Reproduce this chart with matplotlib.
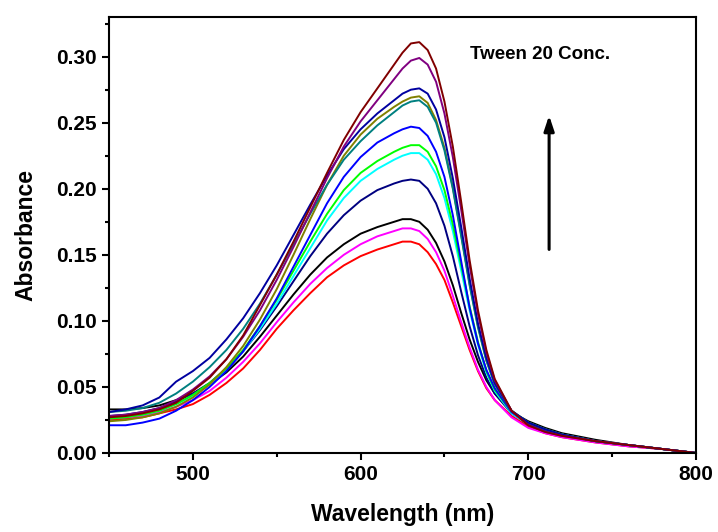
import matplotlib
matplotlib.use("Agg")
import matplotlib.pyplot as plt
from matplotlib.ticker import MultipleLocator

plt.rcParams["font.family"] = ["Liberation Sans", "DejaVu Sans"]
plt.rcParams["font.weight"] = "bold"

# wavelength grid (nm)
wl = [450, 460, 470, 480, 490, 500, 510, 520, 530, 540, 550, 560, 570, 580, 590,
      600, 610, 620, 625, 630, 635, 640, 645, 650, 655, 660, 665, 670, 675, 680,
      690, 700, 710, 720, 740, 760, 780, 800]

# absorbance spectra (low -> high Tween 20 conc.)
a_red = [0.025, 0.026, 0.027, 0.030, 0.033, 0.037, 0.044, 0.053, 0.064, 0.078, 0.094, 0.108, 0.121, 0.133, 0.142,
         0.149, 0.154, 0.158, 0.160, 0.160, 0.158, 0.152, 0.143, 0.131, 0.114, 0.096, 0.078, 0.062, 0.049, 0.040,
         0.028, 0.020, 0.015, 0.012, 0.008, 0.005, 0.003, 0.000]
a_magenta = [0.026, 0.027, 0.028, 0.031, 0.035, 0.040, 0.047, 0.057, 0.069, 0.083, 0.099, 0.114, 0.128, 0.140, 0.150,
             0.158, 0.164, 0.168, 0.170, 0.170, 0.168, 0.162, 0.152, 0.138, 0.119, 0.099, 0.080, 0.063, 0.050, 0.040,
             0.027, 0.019, 0.015, 0.012, 0.008, 0.005, 0.003, 0.000]
a_black = [0.033, 0.033, 0.034, 0.036, 0.040, 0.045, 0.052, 0.061, 0.073, 0.088, 0.104, 0.120, 0.135, 0.148, 0.158,
           0.166, 0.171, 0.175, 0.177, 0.177, 0.175, 0.169, 0.159, 0.145, 0.127, 0.106, 0.086, 0.069, 0.055, 0.045,
           0.031, 0.024, 0.019, 0.015, 0.010, 0.006, 0.003, 0.000]
a_navy = [0.028, 0.029, 0.031, 0.034, 0.039, 0.045, 0.053, 0.064, 0.077, 0.093, 0.111, 0.130, 0.149, 0.166, 0.180,
          0.191, 0.199, 0.204, 0.206, 0.207, 0.206, 0.200, 0.189, 0.172, 0.149, 0.122, 0.096, 0.074, 0.057, 0.045,
          0.030, 0.022, 0.017, 0.014, 0.009, 0.006, 0.003, 0.000]
a_cyan = [0.027, 0.028, 0.029, 0.032, 0.037, 0.043, 0.052, 0.063, 0.077, 0.094, 0.113, 0.134, 0.155, 0.176, 0.193,
          0.206, 0.215, 0.222, 0.225, 0.227, 0.227, 0.222, 0.211, 0.193, 0.168, 0.138, 0.108, 0.082, 0.061, 0.047,
          0.030, 0.022, 0.017, 0.014, 0.009, 0.006, 0.003, 0.000]
a_green = [0.026, 0.027, 0.029, 0.032, 0.037, 0.044, 0.053, 0.064, 0.078, 0.096, 0.116, 0.138, 0.160, 0.181, 0.199,
           0.212, 0.221, 0.228, 0.231, 0.233, 0.233, 0.228, 0.217, 0.199, 0.173, 0.142, 0.111, 0.084, 0.062, 0.048,
           0.031, 0.023, 0.018, 0.014, 0.009, 0.006, 0.003, 0.000]
a_blue = [0.021, 0.021, 0.023, 0.026, 0.032, 0.040, 0.050, 0.062, 0.077, 0.096, 0.117, 0.141, 0.165, 0.189, 0.209,
          0.224, 0.235, 0.242, 0.245, 0.247, 0.246, 0.240, 0.228, 0.209, 0.180, 0.145, 0.110, 0.083, 0.063, 0.049,
          0.031, 0.022, 0.017, 0.014, 0.009, 0.006, 0.003, 0.000]
a_olive = [0.024, 0.025, 0.027, 0.030, 0.035, 0.042, 0.052, 0.065, 0.081, 0.101, 0.124, 0.150, 0.177, 0.203, 0.225,
           0.241, 0.253, 0.262, 0.266, 0.269, 0.270, 0.265, 0.252, 0.231, 0.201, 0.165, 0.128, 0.096, 0.070, 0.052,
           0.032, 0.023, 0.018, 0.014, 0.009, 0.006, 0.003, 0.000]
a_teal = [0.031, 0.032, 0.034, 0.038, 0.045, 0.054, 0.065, 0.078, 0.094, 0.113, 0.135, 0.158, 0.181, 0.203, 0.222,
          0.236, 0.248, 0.258, 0.263, 0.266, 0.267, 0.262, 0.250, 0.229, 0.200, 0.164, 0.127, 0.095, 0.070, 0.052,
          0.032, 0.023, 0.018, 0.014, 0.009, 0.006, 0.003, 0.000]
a_royal = [0.031, 0.033, 0.036, 0.042, 0.054, 0.062, 0.072, 0.086, 0.102, 0.121, 0.142, 0.165, 0.188, 0.210, 0.230,
           0.245, 0.257, 0.267, 0.272, 0.275, 0.276, 0.272, 0.260, 0.239, 0.208, 0.171, 0.132, 0.098, 0.072, 0.053,
           0.032, 0.023, 0.018, 0.014, 0.009, 0.006, 0.003, 0.000]
a_purple = [0.028, 0.029, 0.031, 0.034, 0.040, 0.048, 0.058, 0.071, 0.088, 0.108, 0.131, 0.156, 0.182, 0.208, 0.232,
            0.251, 0.267, 0.283, 0.291, 0.297, 0.299, 0.294, 0.281, 0.257, 0.224, 0.184, 0.142, 0.105, 0.076, 0.055,
            0.032, 0.021, 0.016, 0.013, 0.009, 0.006, 0.003, 0.000]
a_wine = [0.027, 0.028, 0.030, 0.033, 0.038, 0.047, 0.057, 0.071, 0.089, 0.112, 0.135, 0.160, 0.186, 0.212, 0.237,
          0.258, 0.276, 0.294, 0.303, 0.310, 0.311, 0.305, 0.291, 0.266, 0.232, 0.190, 0.146, 0.108, 0.078, 0.056,
          0.032, 0.021, 0.016, 0.013, 0.009, 0.006, 0.003, 0.000]

spectra = [a_red, a_magenta, a_black, a_navy, a_cyan, a_green, a_blue,
           a_olive, a_teal, a_royal, a_purple, a_wine]
colors = ["#FF0000", "#FF00FF", "#000000", "#000080", "#00FFFF", "#00FF00", "#0000FF",
          "#808000", "#008080", "#0000A0", "#800080", "#800000"]

fig = plt.figure(figsize=(7.18, 5.32), dpi=100)
ax = fig.add_axes([0.1518, 0.1485, 0.8176, 0.8195])

for y, c in zip(spectra, colors):
    ax.plot(wl, y, color=c, lw=1.4, solid_joinstyle="round")

ax.set_xlim(450, 800)
ax.set_ylim(0, 0.33)
ax.xaxis.set_major_locator(MultipleLocator(100))
ax.xaxis.set_minor_locator(MultipleLocator(50))
ax.yaxis.set_major_locator(MultipleLocator(0.05))
ax.yaxis.set_minor_locator(MultipleLocator(0.025))
ax.yaxis.set_major_formatter(plt.FormatStrFormatter("%.2f"))
ax.tick_params(which="major", direction="out", length=5, width=1.5, labelsize=15)
ax.tick_params(which="minor", direction="out", length=3, width=1.5)
for s in ax.spines.values():
    s.set_linewidth(1.5)

ax.set_xlabel("Wavelength (nm)", fontsize=16.5, fontweight="bold", labelpad=14)
ax.set_ylabel("Absorbance", fontsize=16.5, fontweight="bold", labelpad=14)

ax.text(665.3, 0.302, "Tween 20 Conc.", fontsize=13.5, fontweight="bold", va="center", ha="left")
ax.annotate("", xy=(712.4, 0.2576), xytext=(712.4, 0.152),
            arrowprops=dict(arrowstyle="-|>,head_length=0.9,head_width=0.3", color="black", lw=2.2))

fig.savefig("out.png", dpi=100)
